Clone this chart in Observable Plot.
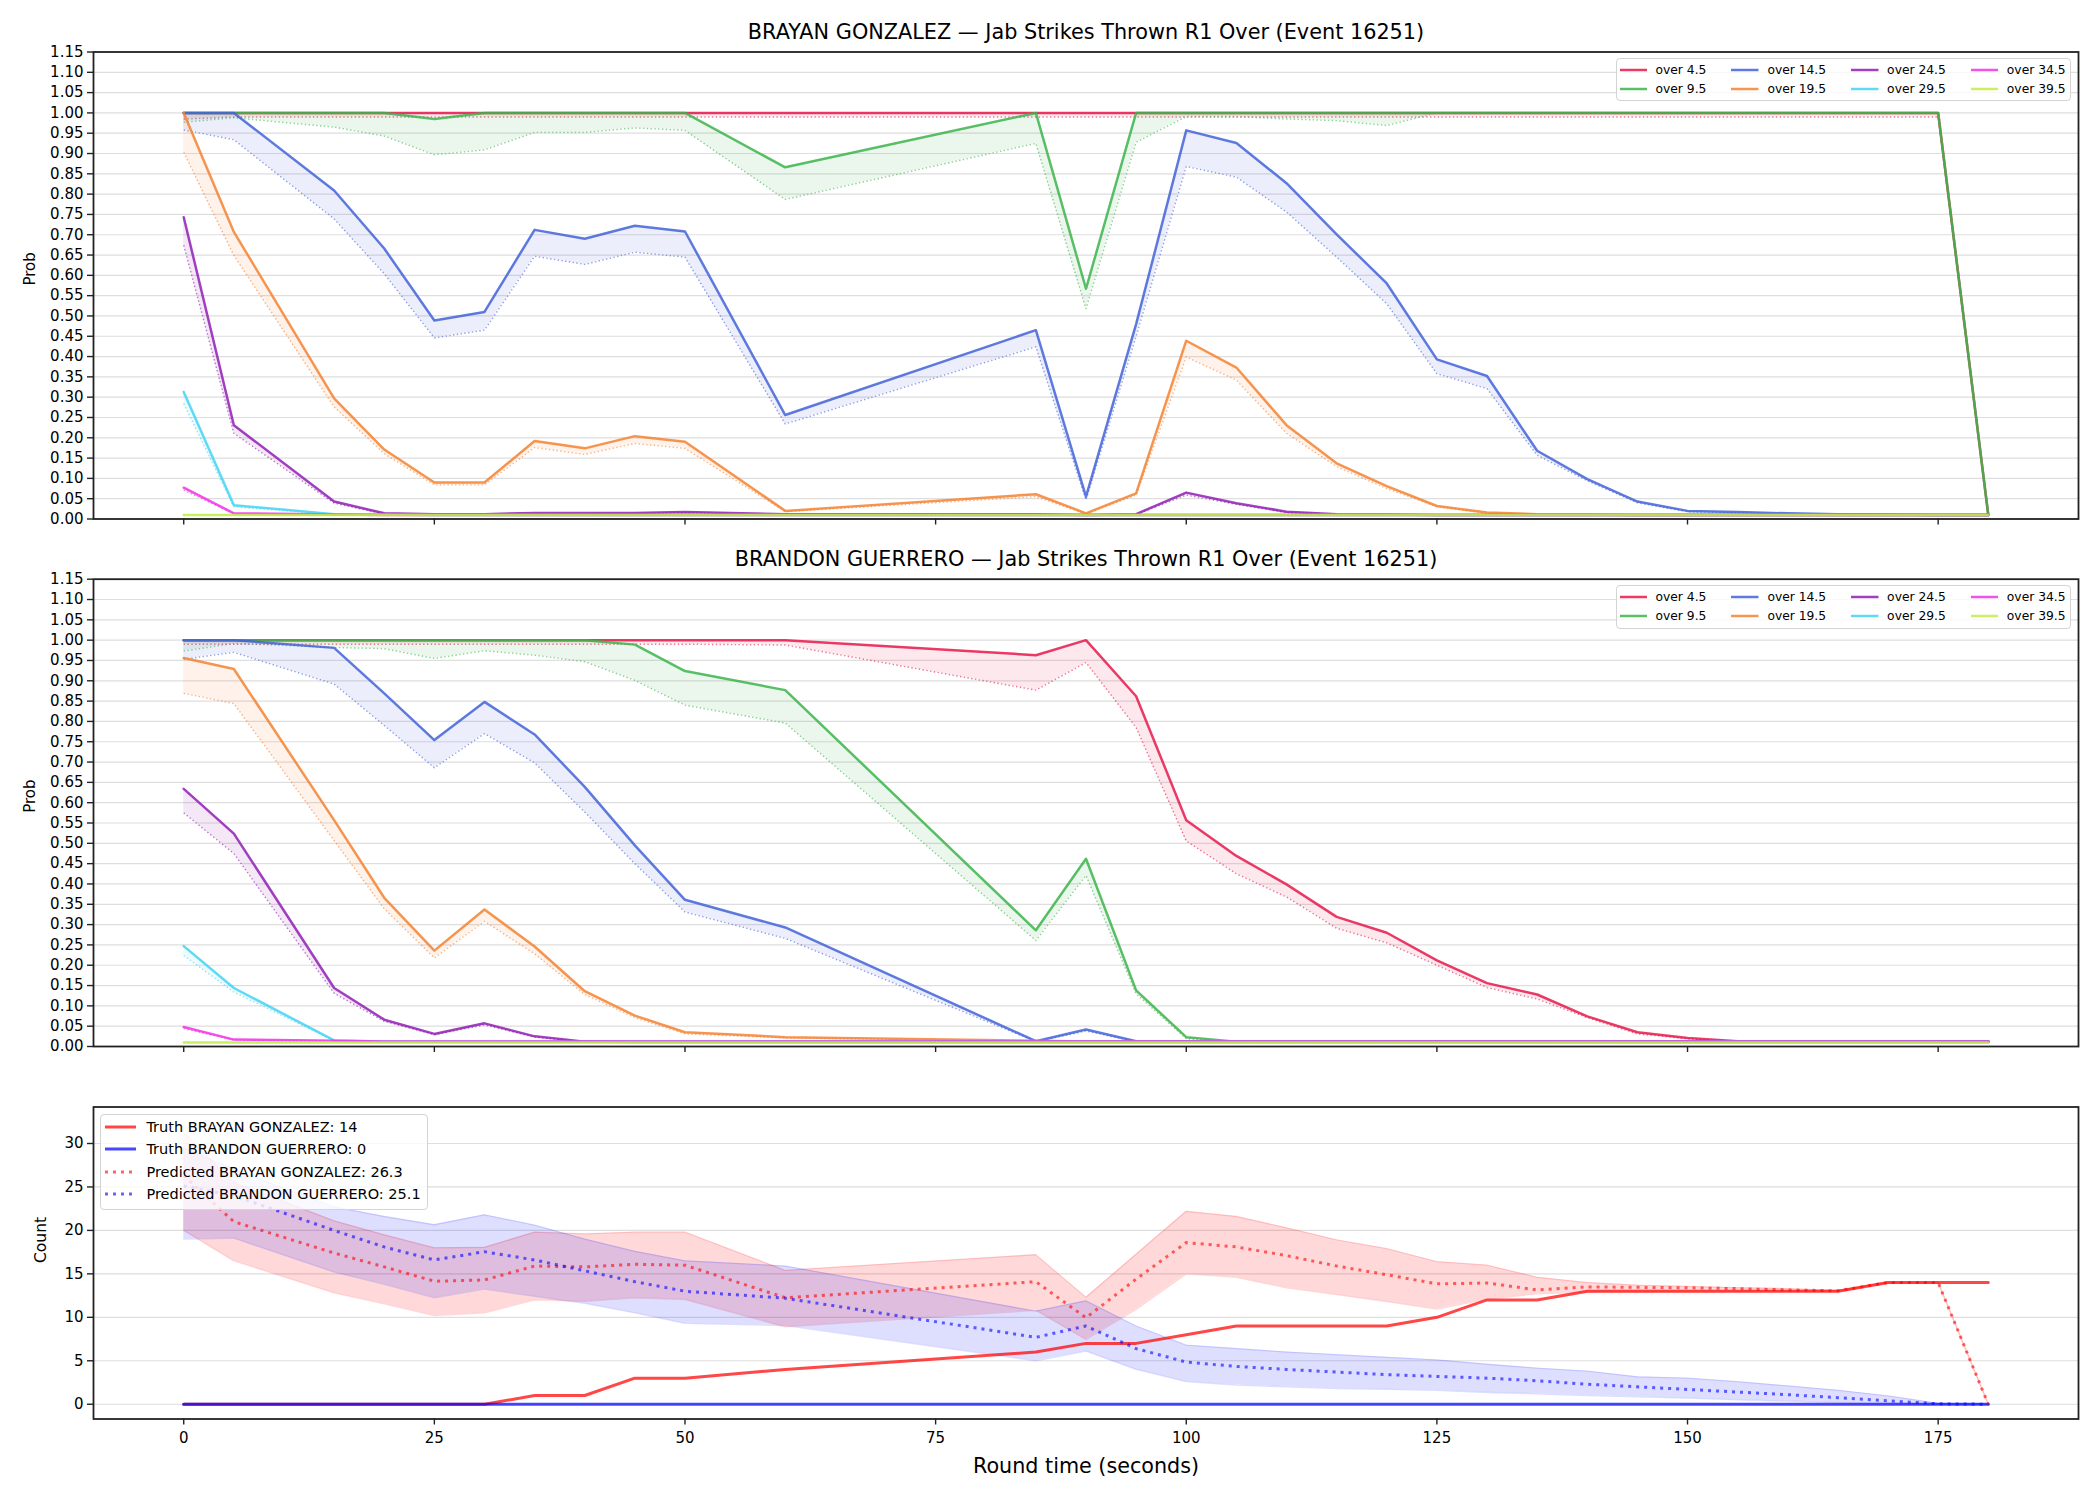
<!DOCTYPE html>
<html>
<head>
<meta charset="utf-8">
<script src="https://cdn.jsdelivr.net/npm/d3@7"></script>
<script src="https://cdn.jsdelivr.net/npm/@observablehq/plot@0.6"></script>
<style>
  html, body { margin:0; padding:0; background:#fff; overflow:hidden; }
  #root { position:relative; width:2100px; height:1500px; overflow:hidden; font-family:"DejaVu Sans", sans-serif; color:#000; }
  .panel { position:absolute; left:0; }
  .panel svg { display:block; max-width:none !important; }
  .legend { position:absolute; box-sizing:border-box; background:rgba(255,255,255,0.8); border:1.5px solid #d4d4d4; border-radius:4px; }
  .prob-legend { display:flex; gap:25px; padding:1.9px 4px 2.3px 2.5px; font-size:12.3px; }
  .prob-legend .col { display:flex; flex-direction:column; }
  .entry { display:flex; align-items:center; white-space:nowrap; }
  .prob-legend .entry { height:18.8px; }
  .prob-legend .entry svg { margin-right:8.5px; }
  .count-legend { padding:0.8px 6px 3.3px 4.1px; font-size:14.5px; }
  .count-legend .entry { height:22.4px; }
  .count-legend .entry svg { margin-right:10.3px; }
</style>
</head>
<body>
<div id="root"></div>
<script>
// ---------------- data ----------------
const roundTimes = [0,5,15,20,25,30,35,40,45,50,60,85,90,95,100,105,110,115,120,125,130,135,140,145,150,155,160,165,170,175,180];
const thresholdLabels = ["over 4.5","over 9.5","over 14.5","over 19.5","over 24.5","over 29.5","over 34.5","over 39.5"];
const thresholdColors = ["#e6194b","#3cb44b","#4363d8","#f58231","#911eb4","#42d4f4","#f032e6","#bfef45"];
const xTicks = [0,25,50,75,100,125,150,175];
const yProbTicks = [0,0.05,0.1,0.15,0.2,0.25,0.3,0.35,0.4,0.45,0.5,0.55,0.6,0.65,0.7,0.75,0.8,0.85,0.9,0.95,1,1.05,1.1,1.15];
const yCountTicks = [0,5,10,15,20,25,30];

const fighterA = "BRAYAN GONZALEZ";
const fighterB = "BRANDON GUERRERO";
const eventId = 16251;

// BRAYAN GONZALEZ: solid line (upper) and dotted line (lower) per threshold
const gonzalez_o45    = [1,1,1,1,1,1,1,1,1,1,1,1,1,1,1,1,1,1,1,1,1,1,1,1,1,1,1,1,1,1,0.01];
const gonzalez_o45_lo = [0.985,0.99,0.99,0.99,0.99,0.99,0.99,0.99,0.99,0.99,0.99,0.99,0.99,0.99,0.99,0.99,0.99,0.99,0.99,0.99,0.99,0.99,0.99,0.99,0.99,0.99,0.99,0.99,0.99,0.99,0.01];
const gonzalez_o95    = [1,1,1,1,0.985,1,1,1,1,1,0.866,1,0.567,1,1,1,1,1,1,1,1,1,1,1,1,1,1,1,1,1,0.01];
const gonzalez_o95_lo = [0.977,0.988,0.965,0.943,0.897,0.909,0.952,0.952,0.963,0.957,0.787,0.925,0.518,0.928,0.991,0.991,0.985,0.981,0.969,1,1,1,1,1,1,1,1,1,1,1,0.01];
const gonzalez_o145    = [1,1,0.809,0.666,0.489,0.51,0.712,0.69,0.722,0.708,0.256,0.465,0.055,0.48,0.957,0.926,0.827,0.701,0.58,0.393,0.352,0.168,0.098,0.043,0.02,0.017,0.014,0.012,0.011,0.01,0.01];
const gonzalez_o145_lo = [0.958,0.934,0.739,0.604,0.446,0.465,0.647,0.627,0.657,0.645,0.234,0.424,0.047,0.45,0.868,0.842,0.756,0.645,0.53,0.358,0.321,0.157,0.094,0.04,0.018,0.015,0.013,0.011,0.01,0.01,0.01];
const gonzalez_o195    = [1,0.707,0.297,0.171,0.09,0.09,0.192,0.174,0.204,0.19,0.02,0.061,0.014,0.063,0.439,0.373,0.231,0.137,0.081,0.032,0.016,0.012,0.011,0.01,0.01,0.01,0.01,0.01,0.01,0.01,0.01];
const gonzalez_o195_lo = [0.903,0.649,0.276,0.161,0.084,0.084,0.176,0.159,0.186,0.174,0.018,0.055,0.012,0.059,0.399,0.342,0.211,0.129,0.075,0.03,0.014,0.011,0.01,0.01,0.01,0.01,0.01,0.01,0.01,0.01,0.01];
const gonzalez_o245    = [0.743,0.231,0.043,0.014,0.012,0.012,0.015,0.015,0.015,0.017,0.012,0.012,0.01,0.012,0.065,0.039,0.018,0.012,0.011,0.01,0.01,0.01,0.01,0.01,0.01,0.01,0.01,0.01,0.01,0.01,0.01];
const gonzalez_o245_lo = [0.674,0.211,0.039,0.012,0.011,0.011,0.013,0.013,0.013,0.015,0.011,0.011,0.01,0.011,0.059,0.036,0.016,0.011,0.01,0.01,0.01,0.01,0.01,0.01,0.01,0.01,0.01,0.01,0.01,0.01,0.01];
const gonzalez_o295    = [0.313,0.034,0.012,0.011,0.01,0.01,0.01,0.01,0.01,0.01,0.01,0.01,0.01,0.01,0.01,0.01,0.01,0.01,0.01,0.01,0.01,0.01,0.01,0.01,0.01,0.01,0.01,0.01,0.01,0.01,0.01];
const gonzalez_o295_lo = [0.284,0.03,0.011,0.01,0.01,0.01,0.01,0.01,0.01,0.01,0.01,0.01,0.01,0.01,0.01,0.01,0.01,0.01,0.01,0.01,0.01,0.01,0.01,0.01,0.01,0.01,0.01,0.01,0.01,0.01,0.01];
const gonzalez_o345    = [0.077,0.014,0.011,0.01,0.01,0.01,0.01,0.01,0.01,0.01,0.01,0.01,0.01,0.01,0.01,0.01,0.01,0.01,0.01,0.01,0.01,0.01,0.01,0.01,0.01,0.01,0.01,0.01,0.01,0.01,0.01];
const gonzalez_o345_lo = [0.071,0.013,0.01,0.01,0.01,0.01,0.01,0.01,0.01,0.01,0.01,0.01,0.01,0.01,0.01,0.01,0.01,0.01,0.01,0.01,0.01,0.01,0.01,0.01,0.01,0.01,0.01,0.01,0.01,0.01,0.01];
const gonzalez_o395    = [0.01,0.01,0.01,0.01,0.01,0.01,0.01,0.01,0.01,0.01,0.01,0.01,0.01,0.01,0.01,0.01,0.01,0.01,0.01,0.01,0.01,0.01,0.01,0.01,0.01,0.01,0.01,0.01,0.01,0.01,0.01];
const gonzalez_o395_lo = [0.01,0.01,0.01,0.01,0.01,0.01,0.01,0.01,0.01,0.01,0.01,0.01,0.01,0.01,0.01,0.01,0.01,0.01,0.01,0.01,0.01,0.01,0.01,0.01,0.01,0.01,0.01,0.01,0.01,0.01,0.01];

// BRANDON GUERRERO
const guerrero_o45    = [1,1,1,1,1,1,1,1,1,1,1,0.963,1,0.862,0.557,0.469,0.399,0.319,0.28,0.212,0.156,0.128,0.074,0.035,0.021,0.013,0.012,0.012,0.012,0.012,0.012];
const guerrero_o45_lo = [0.99,0.99,0.99,0.99,0.99,0.99,0.99,0.99,0.99,0.99,0.988,0.877,0.945,0.785,0.506,0.425,0.368,0.291,0.255,0.2,0.145,0.117,0.071,0.031,0.019,0.012,0.011,0.011,0.011,0.011,0.011];
const guerrero_o95    = [1,1,1,1,1,1,1,1,0.989,0.924,0.877,0.286,0.462,0.138,0.023,0.012,0.012,0.012,0.012,0.012,0.012,0.012,0.012,0.012,0.012,0.012,0.012,0.012,0.012,0.012,0.012];
const guerrero_o95_lo = [0.973,0.992,0.982,0.979,0.955,0.974,0.963,0.947,0.901,0.84,0.796,0.261,0.421,0.13,0.019,0.011,0.011,0.011,0.011,0.011,0.011,0.011,0.011,0.011,0.011,0.011,0.011,0.011,0.011,0.011,0.011];
const guerrero_o145    = [1,1,0.981,0.869,0.754,0.848,0.768,0.639,0.495,0.361,0.293,0.013,0.042,0.013,0.012,0.012,0.012,0.012,0.012,0.012,0.012,0.012,0.012,0.012,0.012,0.012,0.012,0.012,0.012,0.012,0.012];
const guerrero_o145_lo = [0.953,0.97,0.892,0.79,0.686,0.77,0.698,0.577,0.45,0.331,0.266,0.012,0.038,0.012,0.011,0.011,0.011,0.011,0.011,0.011,0.011,0.011,0.011,0.011,0.011,0.011,0.011,0.011,0.011,0.011,0.011];
const guerrero_o195    = [0.956,0.929,0.557,0.366,0.236,0.337,0.246,0.136,0.076,0.035,0.023,0.014,0.012,0.012,0.012,0.012,0.012,0.012,0.012,0.012,0.012,0.012,0.012,0.012,0.012,0.012,0.012,0.012,0.012,0.012,0.012];
const guerrero_o195_lo = [0.869,0.844,0.507,0.339,0.218,0.308,0.228,0.128,0.071,0.031,0.021,0.013,0.011,0.011,0.011,0.011,0.011,0.011,0.011,0.011,0.011,0.011,0.011,0.011,0.011,0.011,0.011,0.011,0.011,0.011,0.011];
const guerrero_o245    = [0.634,0.524,0.144,0.066,0.031,0.057,0.025,0.012,0.011,0.011,0.011,0.011,0.011,0.011,0.011,0.011,0.011,0.011,0.011,0.011,0.011,0.011,0.011,0.011,0.011,0.011,0.011,0.011,0.011,0.011,0.011];
const guerrero_o245_lo = [0.575,0.475,0.131,0.062,0.029,0.053,0.023,0.011,0.011,0.011,0.011,0.011,0.011,0.011,0.011,0.011,0.011,0.011,0.011,0.011,0.011,0.011,0.011,0.011,0.011,0.011,0.011,0.011,0.011,0.011,0.011];
const guerrero_o295    = [0.247,0.144,0.015,0.012,0.012,0.012,0.012,0.012,0.012,0.012,0.012,0.012,0.012,0.012,0.012,0.012,0.012,0.012,0.012,0.012,0.012,0.012,0.012,0.012,0.012,0.012,0.012,0.012,0.012,0.012,0.012];
const guerrero_o295_lo = [0.224,0.134,0.014,0.011,0.011,0.011,0.011,0.011,0.011,0.011,0.011,0.011,0.011,0.011,0.011,0.011,0.011,0.011,0.011,0.011,0.011,0.011,0.011,0.011,0.011,0.011,0.011,0.011,0.011,0.011,0.011];
const guerrero_o345    = [0.048,0.017,0.014,0.012,0.012,0.012,0.012,0.012,0.012,0.012,0.012,0.012,0.012,0.012,0.012,0.012,0.012,0.012,0.012,0.012,0.012,0.012,0.012,0.012,0.012,0.012,0.012,0.012,0.012,0.012,0.012];
const guerrero_o345_lo = [0.044,0.016,0.013,0.011,0.011,0.011,0.011,0.011,0.011,0.011,0.011,0.011,0.011,0.011,0.011,0.011,0.011,0.011,0.011,0.011,0.011,0.011,0.011,0.011,0.011,0.011,0.011,0.011,0.011,0.011,0.011];
const guerrero_o395    = [0.01,0.01,0.01,0.01,0.01,0.01,0.01,0.01,0.01,0.01,0.01,0.01,0.01,0.01,0.01,0.01,0.01,0.01,0.01,0.01,0.01,0.01,0.01,0.01,0.01,0.01,0.01,0.01,0.01,0.01,0.01];
const guerrero_o395_lo = [0.01,0.01,0.01,0.01,0.01,0.01,0.01,0.01,0.01,0.01,0.01,0.01,0.01,0.01,0.01,0.01,0.01,0.01,0.01,0.01,0.01,0.01,0.01,0.01,0.01,0.01,0.01,0.01,0.01,0.01,0.01];

// Count panel
const gonzalezTruth = [0,0,0,0,0,0,1,1,3,3,4,6,7,7,8,9,9,9,9,10,12,12,13,13,13,13,13,13,14,14,14];
const guerreroTruth = [0,0,0,0,0,0,0,0,0,0,0,0,0,0,0,0,0,0,0,0,0,0,0,0,0,0,0,0,0,0,0];
const gonzalezPred  = [26.3,21.0,17.4,15.8,14.15,14.3,15.9,15.8,16.1,16.0,12.25,14.1,9.95,14.4,18.6,18.1,17.1,15.9,14.9,13.85,13.95,13.15,13.5,13.45,13.4,13.3,13.15,13.05,14.0,14.0,0];
const gonzalezHi    = [31.3,25.5,21.1,19.5,18.0,18.05,19.8,19.6,19.8,19.8,15.4,17.2,12.3,17.25,22.2,21.6,20.3,18.9,17.9,16.4,16.0,14.6,14.0,13.7,13.55,13.4,13.3,13.1,14.0,14.0,0];
const gonzalezLo    = [20.0,16.5,12.8,11.55,10.2,10.5,12.0,11.85,12.25,12.05,8.9,10.8,7.45,10.9,15.0,14.6,13.4,12.6,11.8,10.95,12.1,12.7,12.9,12.9,12.9,12.95,12.95,13.0,14.0,14.0,0];
const guerreroPred  = [25.1,24.0,20.0,18.1,16.6,17.55,16.6,15.35,14.1,13.0,12.2,7.7,9.0,6.4,4.85,4.35,4.0,3.7,3.4,3.2,3.0,2.7,2.3,2.0,1.7,1.4,1.1,0.75,0.4,0.05,0];
const guerreroHi    = [29.5,27.0,22.7,21.6,20.65,21.8,20.6,19.0,17.6,16.5,15.9,10.7,11.9,9.0,6.8,6.4,6.0,5.7,5.4,5.1,4.6,4.15,3.8,3.15,3.0,2.6,2.1,1.6,0.95,0.1,0];
const guerreroLo    = [19.0,19.1,15.2,13.8,12.25,13.25,12.4,11.6,10.5,9.3,9.05,5.0,6.1,4.0,2.6,2.2,2.0,1.8,1.7,1.6,1.35,1.2,1.0,0.85,0.7,0.5,0.35,0.2,0.1,0,0];

const gonzalezSeries = [
  [gonzalez_o45, gonzalez_o45_lo], [gonzalez_o95, gonzalez_o95_lo], [gonzalez_o145, gonzalez_o145_lo], [gonzalez_o195, gonzalez_o195_lo],
  [gonzalez_o245, gonzalez_o245_lo], [gonzalez_o295, gonzalez_o295_lo], [gonzalez_o345, gonzalez_o345_lo], [gonzalez_o395, gonzalez_o395_lo]
];
const guerreroSeries = [
  [guerrero_o45, guerrero_o45_lo], [guerrero_o95, guerrero_o95_lo], [guerrero_o145, guerrero_o145_lo], [guerrero_o195, guerrero_o195_lo],
  [guerrero_o245, guerrero_o245_lo], [guerrero_o295, guerrero_o295_lo], [guerrero_o345, guerrero_o345_lo], [guerrero_o395, guerrero_o395_lo]
];

// ---------------- rendering ----------------
const root = document.getElementById("root");
const FONT = "DejaVu Sans";
const ML = 93, MR = 22;

function place(el, top) {
  const d = document.createElement("div");
  d.className = "panel";
  d.style.top = top + "px";
  d.appendChild(el);
  root.appendChild(d);
}

function probChart(series, title, height, marginTop, marginBottom) {
  const marks = [Plot.gridY(yProbTicks, {stroke: "#dedede", strokeOpacity: 1, strokeWidth: 1.2})];
  series.forEach(([hi, lo], k) => {
    const rows = roundTimes.map((t, i) => ({t, hi: hi[i], lo: lo[i]}));
    const c = thresholdColors[k];
    marks.push(Plot.areaY(rows, {x: "t", y1: "lo", y2: "hi", fill: c, fillOpacity: 0.1}));
    marks.push(Plot.line(rows, {x: "t", y: "hi", stroke: c, strokeWidth: 2.5, strokeOpacity: 0.85}));
    marks.push(Plot.line(rows, {x: "t", y: "lo", stroke: c, strokeWidth: 1.4, strokeOpacity: 0.6, strokeDasharray: "1.4,2.4", strokeLinecap: "butt"}));
  });
  marks.push(
    Plot.axisY(yProbTicks, {anchor: "left", tickFormat: d3.format(".2f"), tickSize: 6, tickPadding: 4, fontSize: 15, label: null, stroke: "#222", strokeWidth: 1.4}),
    Plot.axisX(xTicks, {anchor: "bottom", tickFormat: () => "", tickSize: 6, label: null, stroke: "#222", strokeWidth: 1.4}),
    Plot.frame({stroke: "#222", strokeWidth: 1.8}),
    Plot.text([title], {text: d => d, frameAnchor: "top", dy: -19.5, lineAnchor: "middle", fontSize: 20.8, fill: "#000"}),
    Plot.text(["Prob"], {text: d => d, frameAnchor: "left", rotate: -90, dx: -63.5, fontSize: 15, fill: "#000"})
  );
  return Plot.plot({
    width: 2100, height, marginTop, marginBottom, marginLeft: ML, marginRight: MR,
    x: {domain: [-9, 189]},
    y: {domain: [0, 1.15]},
    style: {fontFamily: FONT, fontSize: "15px", color: "#000", background: "transparent", overflow: "visible"},
    marks
  });
}

function probLegend(top) {
  const box = document.createElement("div");
  box.className = "legend prob-legend";
  box.style.left = "1616px";
  box.style.top = top + "px";
  for (let col = 0; col < 4; col++) {
    const c = document.createElement("div");
    c.className = "col";
    for (let row = 0; row < 2; row++) {
      const k = col * 2 + row;
      const e = document.createElement("div");
      e.className = "entry";
      e.innerHTML = `<svg width="27.5" height="6"><line x1="0" x2="27.5" y1="3" y2="3" stroke="${thresholdColors[k]}" stroke-opacity="0.85" stroke-width="2.5"/></svg><span>${thresholdLabels[k]}</span>`;
      c.appendChild(e);
    }
    box.appendChild(c);
  }
  root.appendChild(box);
}

function countChart() {
  const rows = roundTimes.map((t, i) => ({
    t, gT: gonzalezTruth[i], uT: guerreroTruth[i], gP: gonzalezPred[i], uP: guerreroPred[i],
    gH: gonzalezHi[i], gL: gonzalezLo[i], uH: guerreroHi[i], uL: guerreroLo[i]
  }));
  return Plot.plot({
    width: 2100, height: 430, marginTop: 36.5, marginBottom: 81.5, marginLeft: ML, marginRight: MR,
    x: {domain: [-9, 189]},
    y: {domain: [-1.7, 34.2]},
    style: {fontFamily: FONT, fontSize: "15px", color: "#000", background: "transparent", overflow: "visible"},
    marks: [
      Plot.gridY(yCountTicks, {stroke: "#dedede", strokeOpacity: 1, strokeWidth: 1.2}),
      Plot.areaY(rows, {x: "t", y1: "gL", y2: "gH", fill: "red", fillOpacity: 0.15}),
      Plot.line(rows, {x: "t", y: "gL", stroke: "red", strokeOpacity: 0.15, strokeWidth: 1.3}),
      Plot.line(rows, {x: "t", y: "gH", stroke: "red", strokeOpacity: 0.15, strokeWidth: 1.3}),
      Plot.areaY(rows, {x: "t", y1: "uL", y2: "uH", fill: "blue", fillOpacity: 0.13}),
      Plot.line(rows, {x: "t", y: "uL", stroke: "blue", strokeOpacity: 0.13, strokeWidth: 1.3}),
      Plot.line(rows, {x: "t", y: "uH", stroke: "blue", strokeOpacity: 0.13, strokeWidth: 1.3}),
      Plot.line(rows, {x: "t", y: "gT", stroke: "red", strokeOpacity: 0.72, strokeWidth: 3}),
      Plot.line(rows, {x: "t", y: "uT", stroke: "blue", strokeOpacity: 0.72, strokeWidth: 3}),
      Plot.line(rows, {x: "t", y: "gP", stroke: "red", strokeOpacity: 0.6, strokeWidth: 3, strokeDasharray: "3,5", strokeLinecap: "butt"}),
      Plot.line(rows, {x: "t", y: "uP", stroke: "blue", strokeOpacity: 0.6, strokeWidth: 3, strokeDasharray: "3,5", strokeLinecap: "butt"}),
      Plot.axisY(yCountTicks, {anchor: "left", tickSize: 6, tickPadding: 4, fontSize: 15, label: null, stroke: "#222", strokeWidth: 1.4}),
      Plot.axisX(xTicks, {anchor: "bottom", tickSize: 6, tickPadding: 7, fontSize: 15, label: null, stroke: "#222", strokeWidth: 1.4}),
      Plot.frame({stroke: "#222", strokeWidth: 1.8}),
      Plot.text(["Count"], {text: d => d, frameAnchor: "left", rotate: -90, dx: -52, fontSize: 15.5, fill: "#000"}),
      Plot.text(["Round time (seconds)"], {text: d => d, frameAnchor: "bottom", dy: 47, lineAnchor: "middle", fontSize: 20.7, fill: "#000"})
    ]
  });
}

function countLegend() {
  const box = document.createElement("div");
  box.className = "legend count-legend";
  box.style.left = "100px";
  box.style.top = "1114px";
  const entries = [
    {label: `Truth ${fighterA}: ${gonzalezTruth[gonzalezTruth.length - 1]}`, color: "red", dash: null},
    {label: `Truth ${fighterB}: ${guerreroTruth[guerreroTruth.length - 1]}`, color: "blue", dash: null},
    {label: `Predicted ${fighterA}: ${gonzalezPred[0].toFixed(1)}`, color: "red", dash: "3,5"},
    {label: `Predicted ${fighterB}: ${guerreroPred[0].toFixed(1)}`, color: "blue", dash: "3,5"}
  ];
  for (const en of entries) {
    const e = document.createElement("div");
    e.className = "entry";
    const dashAttr = en.dash ? `stroke-dasharray="${en.dash}" stroke-opacity="0.6"` : `stroke-opacity="0.72"`;
    e.innerHTML = `<svg width="31" height="6"><line x1="0" x2="31" y1="3" y2="3" stroke="${en.color}" stroke-width="3" ${dashAttr}/></svg><span>${en.label}</span>`;
    box.appendChild(e);
  }
  root.appendChild(box);
}

place(probChart(gonzalezSeries, `${fighterA} — Jab Strikes Thrown R1 Over (Event ${eventId})`, 540, 51.5, 21.5), 0);
place(probChart(guerreroSeries, `${fighterB} — Jab Strikes Thrown R1 Over (Event ${eventId})`, 530, 38.7, 24), 540);
place(countChart(), 1070);
probLegend(57.7);
probLegend(584.9);
countLegend();
</script>
</body>
</html>
